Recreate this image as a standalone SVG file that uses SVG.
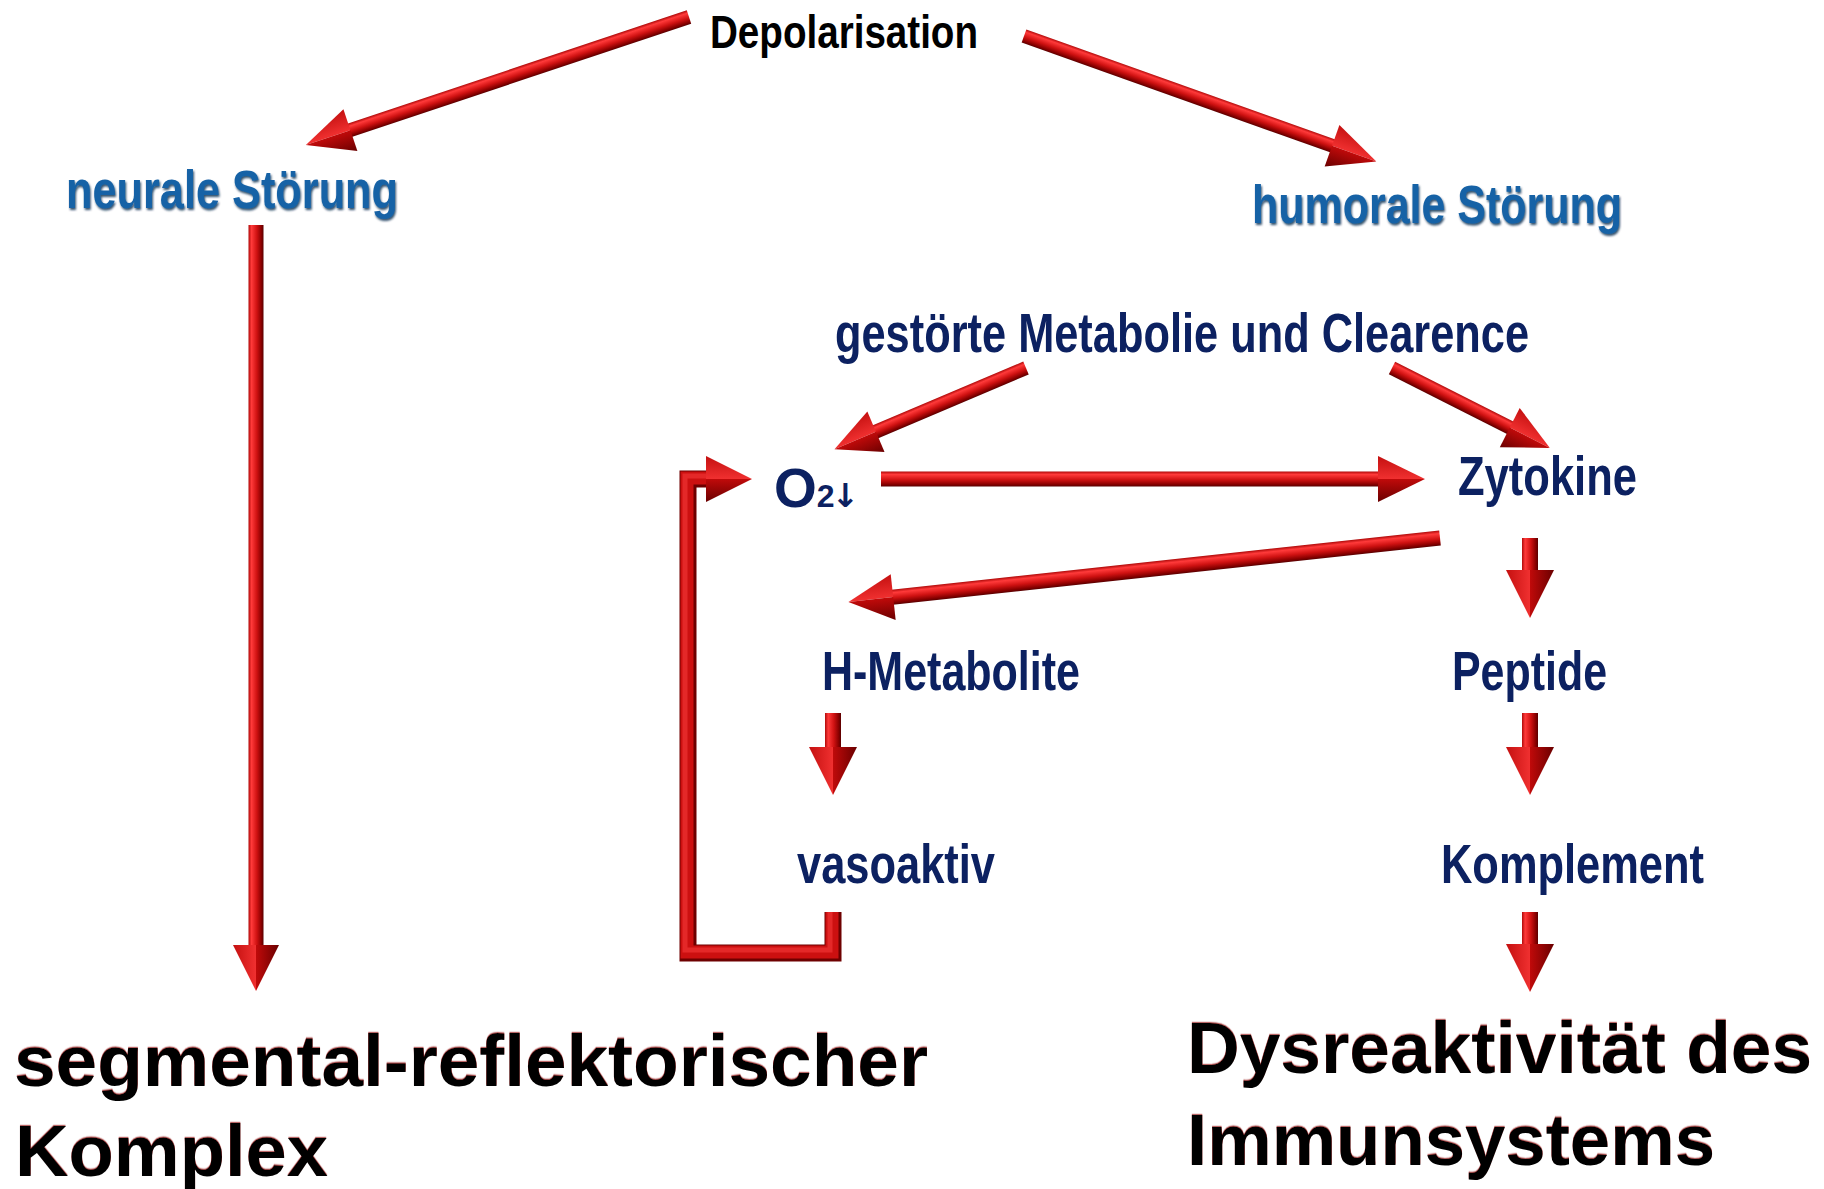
<svg xmlns="http://www.w3.org/2000/svg" width="1824" height="1189" viewBox="0 0 1824 1189">
<defs>
  <linearGradient id="shaft" x1="0" y1="0" x2="0" y2="1">
    <stop offset="0" stop-color="#b00a0a"/>
    <stop offset="0.2" stop-color="#ff3a3a"/>
    <stop offset="0.55" stop-color="#d01212"/>
    <stop offset="0.85" stop-color="#8a0000"/>
    <stop offset="1" stop-color="#5a0000"/>
  </linearGradient>
  <linearGradient id="headTop" x1="0" y1="0" x2="0" y2="1">
    <stop offset="0" stop-color="#c41010"/>
    <stop offset="1" stop-color="#f03030"/>
  </linearGradient>
  <linearGradient id="headBot" x1="0" y1="0" x2="0" y2="1">
    <stop offset="0" stop-color="#c00a0a"/>
    <stop offset="1" stop-color="#6a0000"/>
  </linearGradient>
  <filter id="blueSh" x="-5%" y="-20%" width="110%" height="150%">
    <feDropShadow dx="1" dy="2" stdDeviation="1" flood-color="#06284a" flood-opacity="0.8"/>
  </filter>
  <filter id="redSh" x="-5%" y="-20%" width="110%" height="150%">
    <feDropShadow dx="0" dy="-1.2" stdDeviation="0.5" flood-color="#8a0000" flood-opacity="0.6"/>
  </filter>
</defs>
<style>
  .narrow { font-family: "Liberation Sans Narrow", "Liberation Sans", Arial, sans-serif; font-weight: bold; }
  .navy { fill: #0c2161; font-size: 55px; }
  .blue { fill: #1662a6; font-size: 54px; filter: url(#blueSh); }
  .black { fill: #000; font-size: 47px; }
  .big { font-family: "Liberation Sans", Arial, sans-serif; font-weight: bold; font-size: 73px; fill: #000; filter: url(#redSh); }
  .arrowglyph { font-family: "DejaVu Sans", sans-serif; font-weight: bold; }
  .sh { fill: url(#shaft); }
  .ht { fill: url(#headTop); }
  .hb { fill: url(#headBot); }
</style>
<rect width="1824" height="1189" fill="#fff"/>

<g id="connectors">
  <!-- Depolarisation -> neurale Störung -->
  <g transform="translate(689,17) rotate(161.52) scale(1,-1)">
    <rect class="sh" x="0" y="-7" width="358" height="14"/>
    <polygon class="ht" points="357,-22 404,0 357,0"/>
    <polygon class="hb" points="357,0 404,0 357,22"/>
  </g>
  <!-- Depolarisation -> humorale Störung -->
  <g transform="translate(1024,36) rotate(19.6)">
    <rect class="sh" x="0" y="-7" width="328" height="14"/>
    <polygon class="ht" points="327,-22 374,0 327,0"/>
    <polygon class="hb" points="327,0 374,0 327,22"/>
  </g>
  <!-- neurale Störung -> segmental-reflektorischer Komplex -->
  <g transform="translate(256,225) rotate(90) scale(1,-1)">
    <rect class="sh" x="0" y="-7.5" width="721" height="15"/>
    <polygon class="ht" points="720,-23 766,0 720,0"/>
    <polygon class="hb" points="720,0 766,0 720,23"/>
  </g>
  <!-- gestörte Metabolie -> O2 -->
  <g transform="translate(1026,368) rotate(157.02) scale(1,-1)">
    <rect class="sh" x="0" y="-7" width="164" height="14"/>
    <polygon class="ht" points="163,-22 208,0 163,0"/>
    <polygon class="hb" points="163,0 208,0 163,22"/>
  </g>
  <!-- gestörte Metabolie -> Zytokine -->
  <g transform="translate(1392,368) rotate(26.85)">
    <rect class="sh" x="0" y="-7" width="133" height="14"/>
    <polygon class="ht" points="132,-22 177,0 132,0"/>
    <polygon class="hb" points="132,0 177,0 132,22"/>
  </g>
  <!-- O2 -> Zytokine -->
  <g transform="translate(881,479)">
    <rect class="sh" x="0" y="-7.5" width="498" height="15"/>
    <polygon class="ht" points="497,-23 544,0 497,0"/>
    <polygon class="hb" points="497,0 544,0 497,23"/>
  </g>
  <!-- Zytokine -> H-Metabolite -->
  <g transform="translate(1440,538) rotate(173.83) scale(1,-1)">
    <rect class="sh" x="0" y="-7.5" width="551" height="15"/>
    <polygon class="ht" points="550,-23 595,0 550,0"/>
    <polygon class="hb" points="550,0 595,0 550,23"/>
  </g>
  <!-- Zytokine -> Peptide -->
  <g transform="translate(1530,538) rotate(90) scale(1,-1)">
    <rect class="sh" x="0" y="-8" width="33" height="16"/>
    <polygon class="ht" points="32,-24 80,0 32,0"/>
    <polygon class="hb" points="32,0 80,0 32,24"/>
  </g>
  <!-- H-Metabolite -> vasoaktiv -->
  <g transform="translate(833,713) rotate(90) scale(1,-1)">
    <rect class="sh" x="0" y="-8" width="35" height="16"/>
    <polygon class="ht" points="34,-24 82,0 34,0"/>
    <polygon class="hb" points="34,0 82,0 34,24"/>
  </g>
  <!-- Peptide -> Komplement -->
  <g transform="translate(1530,713) rotate(90) scale(1,-1)">
    <rect class="sh" x="0" y="-8" width="35" height="16"/>
    <polygon class="ht" points="34,-24 82,0 34,0"/>
    <polygon class="hb" points="34,0 82,0 34,24"/>
  </g>
  <!-- Komplement -> Dysreaktivität -->
  <g transform="translate(1530,912) rotate(90) scale(1,-1)">
    <rect class="sh" x="0" y="-8" width="33" height="16"/>
    <polygon class="ht" points="32,-24 80,0 32,0"/>
    <polygon class="hb" points="32,0 80,0 32,24"/>
  </g>
  <!-- vasoaktiv -> O2 (feedback loop) -->
  <g>
    <path d="M833 912 V953 H688 V479 H708" fill="none" stroke="#6e0000" stroke-width="17" stroke-linejoin="miter"/>
    <path d="M832 912 V952 H687 V478 H708" fill="none" stroke="#cc1010" stroke-width="13" stroke-linejoin="miter"/>
    <path d="M830 912 V950 H685 V476 H708" fill="none" stroke="#e42828" stroke-width="5" stroke-linejoin="miter"/>
    <polygon class="ht" points="706,456 752,479 706,479"/>
    <polygon class="hb" points="706,479 752,479 706,502"/>
  </g>
</g>

<g id="node-depolarisation">
  <text class="narrow black" x="710" y="48" textLength="268" lengthAdjust="spacingAndGlyphs">Depolarisation</text>
</g>
<g id="node-neurale">
  <text class="narrow blue" x="66" y="208" textLength="332" lengthAdjust="spacingAndGlyphs">neurale Störung</text>
</g>
<g id="node-humorale">
  <text class="narrow blue" x="1252" y="223" textLength="370" lengthAdjust="spacingAndGlyphs">humorale Störung</text>
</g>
<g id="node-metabolie">
  <text class="narrow navy" x="835" y="352" textLength="694" lengthAdjust="spacingAndGlyphs">gestörte Metabolie und Clearence</text>
</g>
<g id="node-o2">
  <text class="narrow navy" x="774" y="507" font-size="50">O<tspan font-size="32">2</tspan><tspan class="arrowglyph" font-size="33" dx="-3">↓</tspan></text>
</g>
<g id="node-zytokine">
  <text class="narrow navy" x="1458" y="495" textLength="179" lengthAdjust="spacingAndGlyphs">Zytokine</text>
</g>
<g id="node-hmetabolite">
  <text class="narrow navy" x="822" y="690" textLength="258" lengthAdjust="spacingAndGlyphs">H-Metabolite</text>
</g>
<g id="node-peptide">
  <text class="narrow navy" x="1452" y="690" textLength="155" lengthAdjust="spacingAndGlyphs">Peptide</text>
</g>
<g id="node-vasoaktiv">
  <text class="narrow navy" x="797" y="883" textLength="198" lengthAdjust="spacingAndGlyphs">vasoaktiv</text>
</g>
<g id="node-komplement">
  <text class="narrow navy" x="1441" y="883" textLength="263" lengthAdjust="spacingAndGlyphs">Komplement</text>
</g>
<g id="node-segmental">
  <text class="big" x="14" y="1086" textLength="914" lengthAdjust="spacingAndGlyphs">segmental-reflektorischer</text>
  <text class="big" x="15" y="1176" textLength="313" lengthAdjust="spacingAndGlyphs">Komplex</text>
</g>
<g id="node-dysreaktivitaet">
  <text class="big" x="1187" y="1073" textLength="625" lengthAdjust="spacingAndGlyphs">Dysreaktivität des</text>
  <text class="big" x="1187" y="1165" textLength="528" lengthAdjust="spacingAndGlyphs">Immunsystems</text>
</g>
</svg>
